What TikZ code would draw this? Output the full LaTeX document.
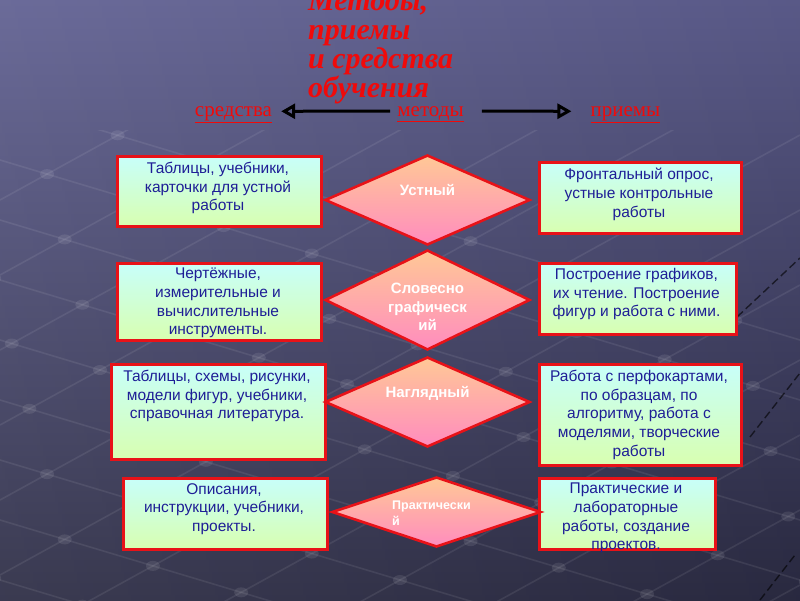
\documentclass[tikz,border=0pt]{standalone}
\usepackage{fontspec}
\setmainfont{Liberation Serif}
\newfontfamily\boxfont{Liberation Sans}
\usetikzlibrary{shapes.geometric,arrows.meta}
\definecolor{bgtop}{RGB}{96,96,146}
\definecolor{bgbot}{RGB}{44,44,68}
\definecolor{bred}{RGB}{232,18,24}
\definecolor{btop}{RGB}{200,255,250}
\definecolor{bbot}{RGB}{216,255,176}
\definecolor{dtop}{RGB}{255,200,150}
\definecolor{dbot}{RGB}{255,140,190}
\definecolor{navy}{RGB}{30,30,150}
\definecolor{ttl}{RGB}{240,10,10}
\begin{document}
\begin{tikzpicture}[x=1pt,y=-1pt,
  bx/.style={draw=bred, line width=2.6pt, top color=btop, bottom color=bbot, anchor=north west, inner sep=0pt},
  bt/.style={font=\boxfont\fontsize{15.5}{18.7}\selectfont, text=navy, align=center, anchor=north, inner sep=0pt},
  dm/.style={diamond, draw=bred, line width=2.6pt, top color=dtop, bottom color=dbot, inner sep=0pt},
  dt/.style={font=\boxfont\bfseries\fontsize{15}{18.7}\selectfont, text=white, align=center, inner sep=0pt},
  hd/.style={font=\fontsize{21}{24}\selectfont, text=ttl, inner sep=0pt},
  arr/.style={line width=3pt, -{Triangle[open, length=14pt, width=15pt]}},
  meshline/.style={white, opacity=0.08, line width=1.6pt},
  meshdot/.style={white, opacity=0.09},
  darkdash/.style={black, opacity=0.6, line width=1.4pt, dash pattern=on 8pt off 4pt}]
\useasboundingbox (0,0) rectangle (800,600);
\shade[top color=bgtop, bottom color=bgbot] (0,0) rectangle (800,600);
\shade[left color=white, right color=black, opacity=0.07] (0,0) rectangle (800,600);
% faint background mesh
\begin{scope}
\clip (0,130) rectangle (800,600);
\foreach \c in {100,160,...,760} \draw[meshline] (0,\c) -- (800,\c+240);
\foreach \d in {200,275,...,1100} \draw[meshline] (0,\d) -- (800,\d-440);
\foreach \c in {100,160,...,760} {
  \foreach \d in {200,275,...,1100} {
    \pgfmathsetmacro\xx{(\d-\c)/0.85}
    \pgfmathsetmacro\yy{0.3*\xx+\c}
    \fill[meshdot] (\xx,\yy) ellipse (7 and 5);
  }
}
\draw[darkdash] (737,317) -- (800,258);
\draw[darkdash] (750,437) -- (800,373);
\draw[darkdash] (760,600) -- (795,555);
\end{scope}
% title
\node[anchor=north west, align=left, inner sep=0pt, text=ttl,
      font=\bfseries\itshape\fontsize{30}{29.3}\selectfont] (title) at (308,-11)
  {Методы,\\приемы\\и средства\\обучения};
% header row
\node[hd, anchor=base] (sred) at (233.5,116) {\underline{средства}};
\node[hd, anchor=base] (met) at (430.5,116) {\underline{методы}};
\node[hd, anchor=base] (pri) at (625.5,116) {\underline{приемы}};
\draw[arr] ([xshift=-7pt,yshift=3pt]met.west) -- ([xshift=9pt,yshift=3pt]sred.east);
\draw[arr] ([xshift=18pt,yshift=3pt]met.east) -- ([xshift=-19pt,yshift=3pt]pri.west);
% boxes
\node[bx, minimum width=204, minimum height=70] (l1) at (116,155) {};
\node[bx, minimum width=202, minimum height=71] (r1) at (538,161) {};
\node[bx, minimum width=204, minimum height=77] (l2) at (116,262) {};
\node[bx, minimum width=197, minimum height=71] (r2) at (538,262) {};
\node[bx, minimum width=214, minimum height=95] (l3) at (110,363) {};
\node[bx, minimum width=202, minimum height=101] (r3) at (538,363) {};
\node[bx, minimum width=204, minimum height=71] (l4) at (122,477) {};
\node[bx, minimum width=176, minimum height=71] (r4) at (538,477) {};
% diamonds
\node[dm, minimum width=205, minimum height=90] (d1) at (427.5,200) {};
\node[dm, minimum width=205, minimum height=100] (d2) at (427.5,300) {};
\node[dm, minimum width=205, minimum height=90] (d3) at (427.5,402) {};
\node[dm, minimum width=209, minimum height=70] (d4) at (436.5,512) {};
% box texts
\node[bt] (l1t) at (218,162) {Таблицы, учебники,\\карточки для устной\\работы};
\node[bt] (r1t) at (639,168) {Фронтальный опрос,\\устные контрольные\\работы};
\node[bt] (l2t) at (218,268) {Чертёжные,\\измерительные и\\вычислительные\\инструменты.};
\node[bt] (r2t) at (636.5,268) {Построение графиков,\\их чтение. Построение\\фигур и работа с ними.};
\node[bt] (l3t) at (217,370) {Таблицы, схемы, рисунки,\\модели фигур, учебники,\\справочная литература.};
\node[bt] (r3t) at (639,370) {Работа с перфокартами,\\по образцам, по\\алгоритму, работа с\\моделями, творческие\\работы};
\node[bt] (l4t) at (224,483) {Описания,\\инструкции, учебники,\\проекты.};
\node[bt] (r4t) at (626,483) {Практические и\\лабораторные\\работы, создание\\проектов.};
% diamond texts
\node[dt] (d1t) at (427.5,190) {Устный};
\node[dt] (d2t) at (427.5,307) {Словесно\\графическ\\ий};
\node[dt] (d3t) at (427.5,393) {Наглядный};
\node[dt, anchor=north west, align=left, font=\boxfont\bfseries\fontsize{12.5}{16}\selectfont] (d4t) at (392,501) {Практически\\й};
\end{tikzpicture}
\end{document}
